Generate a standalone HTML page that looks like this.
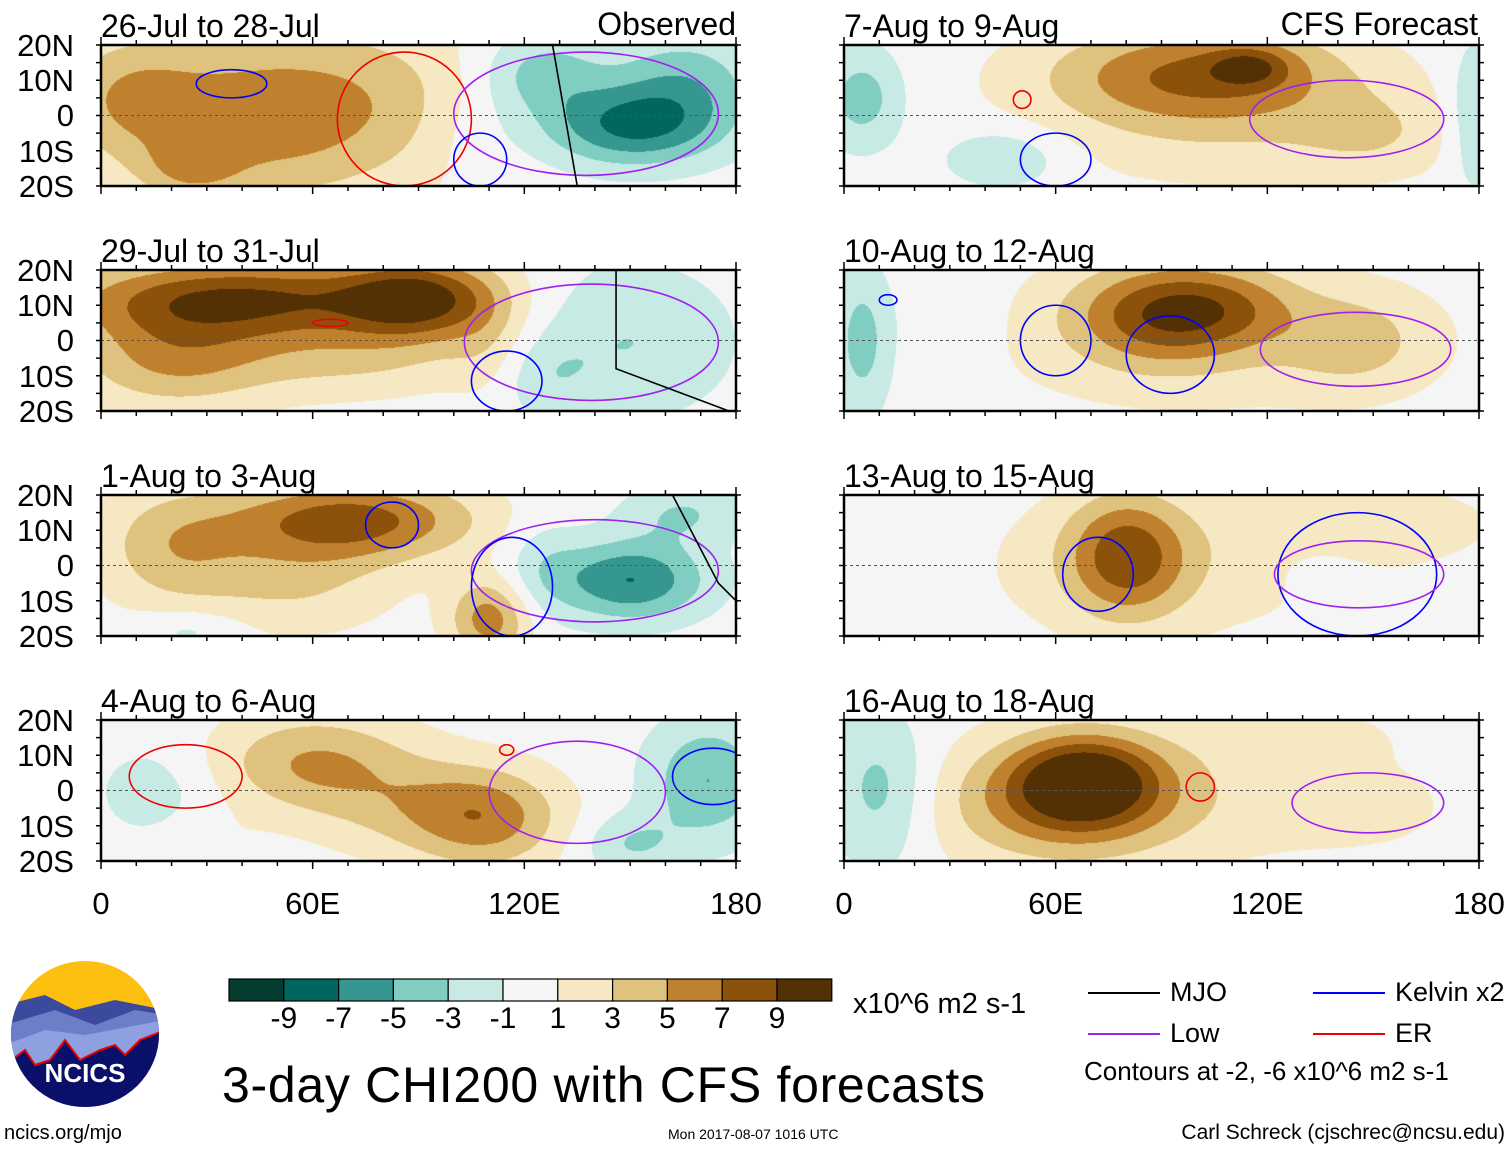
<!DOCTYPE html>
<html><head><meta charset="utf-8"><style>
body{margin:0;background:#fff;width:1510px;height:1149px;overflow:hidden;position:relative;font-family:"Liberation Sans",sans-serif}
.t{position:absolute;white-space:nowrap;color:#000;line-height:1}
canvas{position:absolute}
</style></head><body>
<svg id="ov" width="1510" height="1149" style="position:absolute;left:0;top:0"></svg>
<script>
const panelTitles=["26-Jul to 28-Jul","29-Jul to 31-Jul","1-Aug to 3-Aug","4-Aug to 6-Aug","7-Aug to 9-Aug","10-Aug to 12-Aug","13-Aug to 15-Aug","16-Aug to 18-Aug"];
const colorEdges=[-9,-7,-5,-3,-1,1,3,5,7,9];
const colors=["#053c30","#01665e","#35978f","#80cdc1","#c7eae5","#f5f5f5","#f6e8c3","#dfc27d","#bf812d","#8c510a","#543005"];
const latTicks=["20N","10N","0","10S","20S"];
const lonTicks=["0","60E","120E","180"];
// blobs: [lon, lat, value, lonSigma, latSigma]
const blobs=[
[[50,0,3,35,20],[8,5,4,15,12],[45,0,3,20,15],[80,5,2,20,15],[25,-15,3,10,6],[150,-3,-7,18,8],[165,10,-4,15,10],[125,12,-4,12,8],[105,-5,-1,10,10]],
[[40,12,9,35,8],[90,12,8,15,8],[20,-5,5,20,10],[70,-5,3,25,8],[150,0,-3,20,15],[125,-10,-2,10,8],[110,0,2,8,12]],
[[70,13,8,25,8],[20,5,4,15,12],[110,-15,6,8,8],[55,-5,3,20,10],[150,-4,-7,15,8],[165,15,-3,12,6],[125,0,-2,8,10],[25,-18,-2,10,4]],
[[60,8,5,20,10],[110,-8,5,15,10],[90,-5,3,20,10],[15,0,-2,12,10],[172,3,-5,12,12],[150,-15,-3,10,6],[30,-15,1,10,6]],
[[100,12,7,30,10],[115,14,4,8,4],[110,-5,2,40,12],[150,-5,2,15,8],[5,5,-4,8,10],[45,-12,-3,12,6],[178,0,-3,5,15]],
[[90,8,7,18,10],[100,0,2,45,15],[110,10,3,15,8],[145,0,3,15,10],[5,0,-4,6,15],[30,5,-1,10,10]],
[[80,3,7,12,12],[90,0,2,40,15],[150,12,2,25,8],[20,0,-1,10,10],[135,0,-1,10,6]],
[[68,3,9,15,9],[60,-5,4,25,12],[90,0,2,40,15],[10,0,-4,10,15],[130,15,2,15,5],[150,-5,1,20,10]]];
// contour loops: [lonMin, lonMax, latMin, latMax, color]
const contours=[
[[67,105,-20,18,"#e00"],[100,175,-17,18,"#a020f0"],[27,47,5,13,"#00f"],[100,115,-20,-5,"#00f"]],
[[103,175,-17,16,"#a020f0"],[105,125,-20,-3,"#00f"],[60,70,4,6,"#e00"]],
[[105,175,-16,13,"#a020f0"],[75,90,5,18,"#00f"],[105,128,-20,8,"#00f"]],
[[8,40,-5,13,"#e00"],[110,160,-15,14,"#a020f0"],[162,185,-4,12,"#00f"],[113,117,10,13,"#e00"]],
[[115,170,-12,10,"#a020f0"],[48,53,2,7,"#e00"],[50,70,-20,-5,"#00f"]],
[[50,70,-10,10,"#00f"],[80,105,-15,7,"#00f"],[118,172,-13,8,"#a020f0"],[10,15,10,13,"#00f"]],
[[62,82,-13,8,"#00f"],[123,168,-20,15,"#00f"],[122,170,-12,7,"#a020f0"]],
[[97,105,-3,5,"#e00"],[127,170,-12,5,"#a020f0"]]];
const legendItems=[["MJO","#000",1088,993],["Kelvin x2","#00f",1313,993],["Low","#a020f0",1088,1034],["ER","#e00",1313,1034]];

const PX=[101,844], PW=635, PY=[45,270,495,720], PH=141;
const ov=document.getElementById('ov');
const NS='http://www.w3.org/2000/svg';
function xs(p,lon){return PX[p<4?0:1]+lon/180*PW}
function ys(p,lat){return PY[p%4]+(20-lat)/40*PH}
function colorOf(v){let i=0;while(i<colorEdges.length&&v>=colorEdges[i])i++;return colors[i]}
function mk(tag,attrs){const e=document.createElementNS(NS,tag);for(const k in attrs)e.setAttribute(k,attrs[k]);ov.appendChild(e);return e}
function txt(s,x,y,size,name,anchor){const d=document.createElement('div');d.className='t';d.textContent=s;d.style.fontSize=size+'px';d.style.top=y+'px';
 if(anchor==='r'){d.style.right=(1510-x)+'px'}else if(anchor==='c'){d.style.left=x+'px';d.style.transform='translateX(-50%)'}else d.style.left=x+'px';
 
 
 document.body.appendChild(d);return d}
for(let p=0;p<8;p++){
 const x0=PX[p<4?0:1],y0=PY[p%4];
 const c=document.createElement('canvas');c.width=PW;c.height=PH;c.style.left=x0+'px';c.style.top=y0+'px';
 
 
 document.body.insertBefore(c,ov);
 const g=c.getContext('2d');const img=g.createImageData(PW,PH);
 for(let j=0;j<PH;j++){const lat=20-j/PH*40;for(let i=0;i<PW;i++){const lon=i/PW*180;let v=0;
  for(const b of blobs[p]){const dx=(lon-b[0])/b[3],dy=(lat-b[1])/b[4];v+=b[2]*Math.exp(-0.5*(dx*dx+dy*dy))}
  const col=colorOf(v);const k=(j*PW+i)*4;img.data[k]=parseInt(col.substr(1,2),16);img.data[k+1]=parseInt(col.substr(3,2),16);img.data[k+2]=parseInt(col.substr(5,2),16);img.data[k+3]=255}}
 g.putImageData(img,0,0);
 const cp=mk('clipPath',{id:'cp'+p});const r=document.createElementNS(NS,'rect');r.setAttribute('x',x0);r.setAttribute('y',y0);r.setAttribute('width',PW);r.setAttribute('height',PH);cp.appendChild(r);
 for(const ct of contours[p]){const e=mk('ellipse',{cx:(xs(p,ct[0])+xs(p,ct[1]))/2,cy:(ys(p,ct[2])+ys(p,ct[3]))/2,rx:(xs(p,ct[1])-xs(p,ct[0]))/2,ry:(ys(p,ct[2])-ys(p,ct[3]))/2,fill:'none',stroke:ct[4],'stroke-width':1.6,'clip-path':'url(#cp'+p+')'});
  
  }
 const eq=mk('line',{x1:x0,x2:x0+PW,y1:ys(p,0),y2:ys(p,0),stroke:'#555','stroke-dasharray':'3,3','stroke-width':1});
 
 
 const fr=mk('rect',{x:x0,y:y0,width:PW,height:PH,fill:'none',stroke:'#000','stroke-width':2.5});
 
 
 for(let lon=0;lon<=180;lon+=10){const L=lon%60===0?8:5;const x=xs(p,lon);
  mk('line',{x1:x,x2:x,y1:y0-L,y2:y0,stroke:'#000','stroke-width':1.5});mk('line',{x1:x,x2:x,y1:y0+PH,y2:y0+PH+L,stroke:'#000','stroke-width':1.5});}
 for(let lat=-20;lat<=20;lat+=5){const y=ys(p,lat);mk('line',{x1:x0-5,x2:x0,y1:y,y2:y,stroke:'#000','stroke-width':1.5});mk('line',{x1:x0+PW,x2:x0+PW+5,y1:y,y2:y,stroke:'#000','stroke-width':1.5});}
 txt(panelTitles[p],x0,y0-35,32,'panel-title-'+(p+1));
 if(p<4){latTicks.forEach((s,i)=>txt(s,74,y0-15+i*35.2,31,'lat-label','r'));}
}
// MJO black lines (observed)
[[[128,20],[135,-20]],[[146,20],[146,-8],[178,-20]],[[162,20],[175,-5],[180,-10]]].forEach((pts,q)=>{const p=q;
 const l=mk('polyline',{points:pts.map(a=>xs(p,a[0])+','+ys(p,a[1])).join(' '),fill:'none',stroke:'#000','stroke-width':1.6,'clip-path':'url(#cp'+p+')'});
 
 });
txt("Observed",736,8,32,'observed-label','r');
txt("CFS Forecast",1478,8,32,'forecast-label','r');
[0,1].forEach(k=>lonTicks.forEach((s,i)=>txt(s,PX[k]+i*PW/3,888,31,'lon-label','c')));
// colorbar
colors.forEach((c,i)=>{const r=mk('rect',{x:229+i*54.8,y:979,width:54.8,height:22,fill:c,stroke:'#000','stroke-width':1.2});
 
 });
colorEdges.forEach((v,i)=>txt(String(v),229+(i+1)*54.8,1004,30,'colorbar-tick','c'));
txt("x10^6 m2 s-1",853,990,29,'colorbar-units');
legendItems.forEach(it=>{const l=mk('line',{x1:it[2],x2:it[2]+72,y1:it[3],y2:it[3],stroke:it[1],'stroke-width':2});
 
 
 txt(it[0],it[2]+82,it[3]-14,27,'legend-entry');});
txt("Contours at -2, -6 x10^6 m2 s-1",1084,1058,26,'contour-note');
const mt=txt("3-day CHI200 with CFS forecasts",222,1060,50,'main-title');
mt.style.letterSpacing='0.7px';
txt("ncics.org/mjo",4,1123,20,'site-url');
txt("Mon 2017-08-07 1016 UTC",668,1127,14,'timestamp');
txt("Carl Schreck (cjschrec@ncsu.edu)",1505,1122,21,'author-credit','r');
</script>
<svg width="160" height="160" style="position:absolute;top:955px;left:5px">
<defs><clipPath id="lc"><ellipse cx="80" cy="79" rx="74" ry="73"/></clipPath></defs>
<g clip-path="url(#lc)">
<rect x="0" y="0" width="160" height="160" fill="#fdc010"/>
<path d="M0 50 L40 40 L70 55 L110 45 L160 55 L160 160 L0 160Z" fill="#3b4a9c"/>
<path d="M0 70 L50 55 L90 70 L130 55 L160 60 L160 160 L0 160Z" fill="#6c7ec8"/>
<path d="M0 90 L40 75 L80 80 L160 65 L160 160 L0 160Z" fill="#8fa0e0"/>
<path d="M0 110 L20 95 L30 110 L45 105 L60 85 L75 105 L95 95 L110 90 L120 100 L135 85 L160 75 L160 160 L0 160Z" fill="#0a0f6a" stroke="#e00" stroke-width="2"/>
</g>
<text x="80" y="127" text-anchor="middle" font-family="Liberation Sans" font-weight="bold" font-size="26" fill="#fff">NCICS</text>
</svg>
</body></html>
